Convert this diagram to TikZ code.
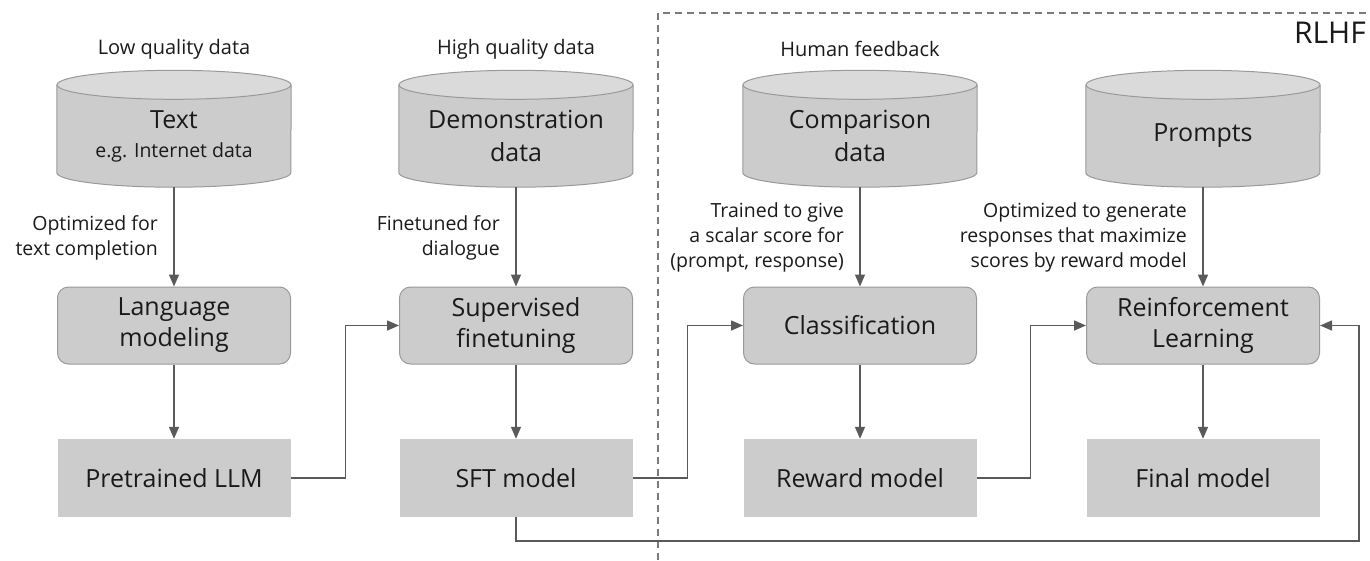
\documentclass[tikz,border=0pt]{standalone}
\usepackage{fontspec}
\setmainfont{Open Sans}
\usetikzlibrary{arrows.meta}
\usetikzlibrary{backgrounds}

\definecolor{boxfill}{HTML}{CCCCCC}
\definecolor{boxedge}{HTML}{999999}
\definecolor{dbtop}{HTML}{DADADA}
\definecolor{wire}{HTML}{5A5A5A}
\definecolor{frame}{HTML}{7A7A7A}
\definecolor{ink}{HTML}{1A1A1A}

\tikzset{
 process/.style={draw=boxedge, line width=1pt, fill=boxfill, rounded corners=11pt,
   minimum width=233pt, minimum height=77pt, align=center, text=ink,
   font=\fontsize{25}{31}\selectfont},
 model/.style={fill=boxfill, minimum width=233pt, minimum height=78pt, text=ink,
   font=\fontsize{25}{31}\selectfont},
 db/.style={minimum width=234pt, minimum height=102pt, inner sep=0pt, align=center,
   text=ink, font=\fontsize{25}{33}\selectfont},
 dbline/.style={draw=boxedge, line width=1pt},
 note/.style={align=right, anchor=east, inner sep=0pt, text=ink,
   font=\fontsize{19.5}{25}\selectfont},
 source/.style={text=ink, font=\fontsize{20}{25}\selectfont},
 arr/.style={draw=wire, line width=1.5pt, -{Triangle[length=12pt,width=10pt]}},
}

% cylinder drawn round a db node
\newcommand{\drawdb}[1]{%
  \draw[dbline, fill=boxfill] (#1.north west) -- ([yshift=14.5pt]#1.south west)
    arc[start angle=180, end angle=360, x radius=117pt, y radius=14.5pt] -- (#1.north east);
  \draw[dbline, fill=dbtop] (#1.north) ellipse [x radius=117pt, y radius=14.5pt];
}

\begin{document}
\begin{tikzpicture}[x=1pt,y=-1pt]
\useasboundingbox (0,0) rectangle (1370,560);

% RLHF frame
\coordinate (rlbot) at (658,560);
\coordinate (rlcorner) at (658,13);
\coordinate (rlright) at (1370,13);
\draw[frame, line width=1.2pt, dash pattern=on 7pt off 5pt] (rlbot) -- (rlcorner) -- (rlright);
\node[anchor=base east, inner sep=0pt, text=ink, font=\fontsize{30}{30}\selectfont] (rlhf) at (1366,43) {RLHF};

% data sources
\node[source] (lowq) at (174,49) {Low quality data};
\node[source] (highq) at (516,49) {High quality data};
\node[source] (humfb) at (860,49) {Human feedback};

\node[db] (text) at (174,136) {Text\\[-4pt]{\fontsize{19.5}{25}\selectfont e.g. Internet data}};
\node[db] (demo) at (516,136) {Demonstration\\data};
\node[db] (comp) at (860,136) {Comparison\\data};
\node[db] (prompts) at (1203,136) {Prompts};
\begin{scope}[on background layer]
  \drawdb{text}
  \drawdb{demo}
  \drawdb{comp}
  \drawdb{prompts}
\end{scope}

% training steps
\node[process] (lm) at (174,325.5) {Language\\modeling};
\node[process] (sup) at (516,325.5) {Supervised\\finetuning};
\node[process] (cls) at (860,325.5) {Classification};
\node[process] (rl) at (1203,325.5) {Reinforcement\\Learning};

% models
\node[model] (llm) at (174,478) {Pretrained LLM};
\node[model] (sft) at (516,478) {SFT model};
\node[model] (rm) at (860,478) {Reward model};
\node[model] (final) at (1203,478) {Final model};

% notes on the arrows
\node[note] (n1) at (158,237.5) {Optimized for\\text completion};
\node[note] (n2) at (500,237.5) {Finetuned for\\dialogue};
\node[note] (n3) at (844,237.5) {Trained to give\\a scalar score for\\(prompt, response)};
\node[note] (n4) at (1187,237.5) {Optimized to generate\\responses that maximize\\scores by reward model};

\draw[arr] (text) -- (lm);
\draw[arr] (demo) -- (sup);
\draw[arr] (comp) -- (cls);
\draw[arr] (prompts) -- (rl);
\draw[arr] (lm) -- (llm);
\draw[arr] (sup) -- (sft);
\draw[arr] (cls) -- (rm);
\draw[arr] (rl) -- (final);

\draw[arr] (llm.east) -- ++(55,0) |- (sup.west);
\draw[arr] (sft.east) -- ++(55,0) |- (cls.west);
\draw[arr] (rm.east) -- ++(54,0) |- (rl.west);
\coordinate (loop) at (1359,541);
\draw[arr] (sft.south) |- (loop) |- (rl.east);
\end{tikzpicture}
\end{document}
